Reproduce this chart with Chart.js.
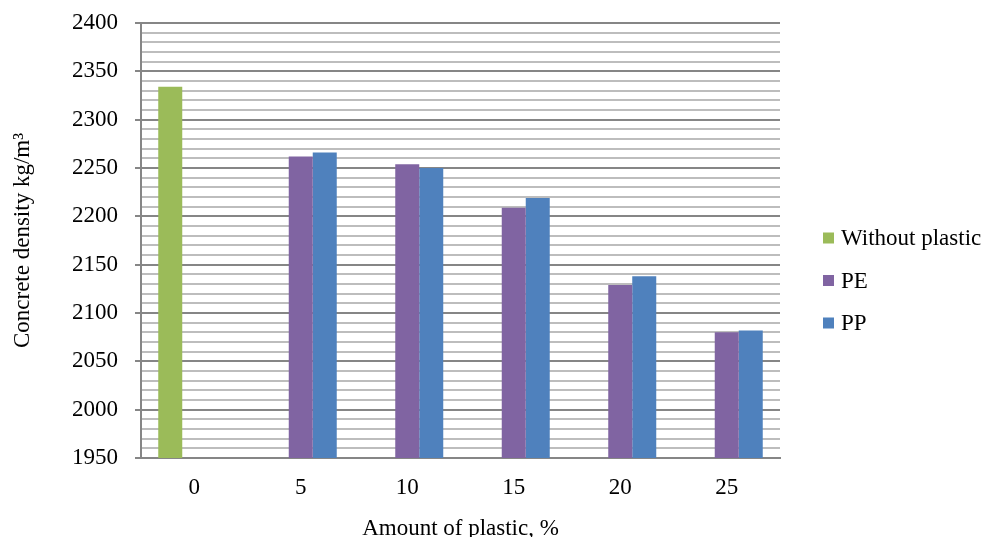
<!DOCTYPE html>
<html>
<head>
<meta charset="utf-8">
<script src="https://cdn.jsdelivr.net/npm/chart.js@4/dist/chart.umd.min.js"></script>
<style>
  html, body { margin: 0; padding: 0; background: #fff; }
  #wrap { width: 987px; height: 537px; position: relative; }
</style>
</head>
<body>
<div id="wrap"><canvas id="c" width="987" height="537"></canvas></div>
<script>
// Amount of plastic (%) on the category axis
const categories = ['0', '5', '10', '15', '20', '25'];
// Concrete density, kg/m³
const withoutPlastic = [2334, null, null, null, null, null];
const pe = [null, 2262, 2254, 2209, 2129, 2080];
const pp = [null, 2266, 2250, 2219, 2138, 2082];
const seriesNames = ['Without plastic', 'PE', 'PP'];
const yMin = 1950, yMax = 2400, yMinorStep = 10, yMajorStep = 50;

const FONT = 'Liberation Serif, Times New Roman, serif';
const colors = ['#9BBB59', '#8064A2', '#4F81BD'];

// legend drawn at the right of the plot, one square + label per series
const sideLegend = {
  id: 'sideLegend',
  afterDraw(chart) {
    const ctx = chart.ctx;
    ctx.save();
    ctx.font = '23px ' + FONT;
    ctx.textBaseline = 'middle';
    chart.data.datasets.forEach((ds, i) => {
      const cy = 238 + i * 42.5;
      ctx.fillStyle = ds.backgroundColor;
      ctx.fillRect(823, cy - 5.5, 11, 11);
      ctx.fillStyle = '#000';
      ctx.fillText(ds.label, 841, cy + 1);
    });
    ctx.restore();
  }
};

new Chart(document.getElementById('c'), {
  type: 'bar',
  data: {
    labels: categories,
    datasets: [
      { label: seriesNames[0], data: withoutPlastic, backgroundColor: colors[0] },
      { label: seriesNames[1], data: pe, backgroundColor: colors[1] },
      { label: seriesNames[2], data: pp, backgroundColor: colors[2] }
    ]
  },
  options: {
    responsive: false,
    animation: false,
    devicePixelRatio: 1,
    layout: { padding: { top: 23, right: 207, left: 0, bottom: 0 } },
    datasets: { bar: { barPercentage: 1.0, categoryPercentage: 0.676 } },
    plugins: {
      legend: { display: false },
      tooltip: { enabled: false }
    },
    scales: {
      x: {
        grid: { display: false },
        border: { display: true, color: '#868686', width: 2 },
        ticks: { color: '#000', font: { family: FONT, size: 23 }, padding: 8 },
        title: {
          display: true, text: 'Amount of plastic, %', color: '#000',
          font: { family: FONT, size: 23 }, padding: { top: 14, bottom: -6 }
        },
        afterFit(scale) {
          scale.height = 79;
          scale.paddingLeft = 0; scale.paddingRight = 0;
        }
      },
      y: {
        min: yMin, max: yMax,
        border: { display: true, color: '#868686', width: 2 },
        grid: {
          color: (c) => (c.tick && c.tick.value % yMajorStep === 0) ? '#868686' : '#bdbdbd',
          lineWidth: 2,
          tickLength: 6,
          tickColor: (c) => (c.tick && c.tick.value % yMajorStep === 0) ? '#868686' : 'rgba(0,0,0,0)',
          drawTicks: true
        },
        ticks: {
          stepSize: yMinorStep,
          autoSkip: false,
          color: '#000',
          font: { family: FONT, size: 23 },
          padding: 17,
          callback: (v) => (v % yMajorStep === 0) ? String(v) : ''
        },
        title: {
          display: true, text: 'Concrete density kg/m³', color: '#000',
          font: { family: FONT, size: 23 }, padding: { top: 9, bottom: 0 }
        },
        afterFit(scale) {
          scale.width = 141;
          scale.paddingTop = 0; scale.paddingBottom = 0;
        }
      }
    }
  },
  plugins: [sideLegend]
});
</script>
</body>
</html>
